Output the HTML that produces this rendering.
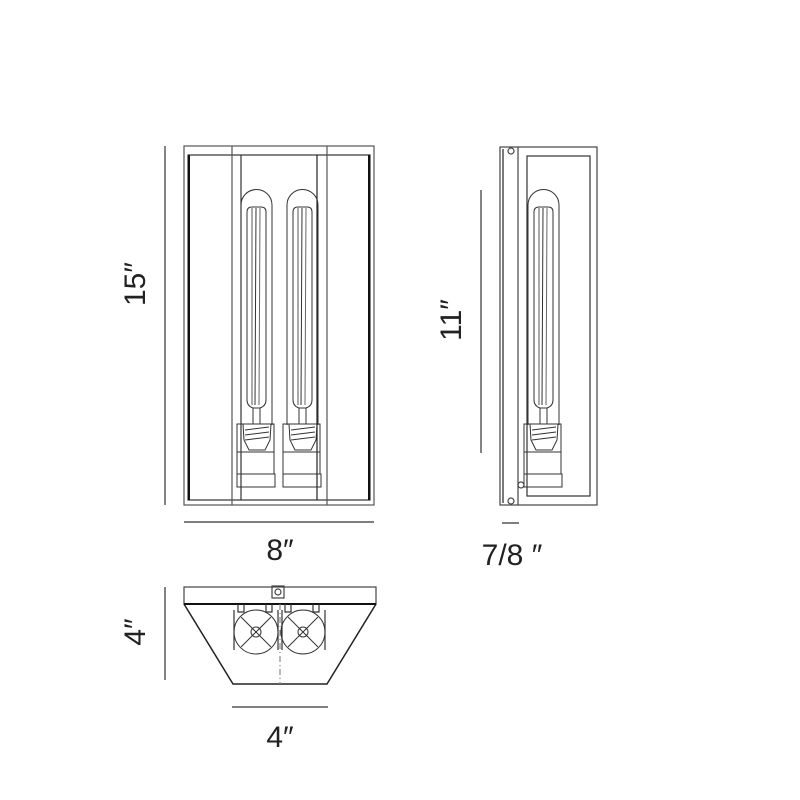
<!DOCTYPE html>
<html><head><style>html,body{margin:0;padding:0;background:#fff}svg{display:block}</style></head>
<body>
<svg width="800" height="800" viewBox="0 0 800 800" xmlns="http://www.w3.org/2000/svg" font-family="Liberation Sans, sans-serif">
<defs>
<g id="bulb">
  <path d="M0,425 L0,205 A15.5,15.5 0 0 1 31,205 L31,425" fill="none" stroke="#333" stroke-width="1"/>
  <path d="M6,400 L6,212 Q6,207 11,207 L20,207 Q25,207 25,212 L25,400 Q25,406 19,408 L12,408 Q6,406 6,400Z" fill="none" stroke="#333" stroke-width="1"/>
  <line x1="11" y1="208" x2="11" y2="405" stroke="#555"/><line x1="15" y1="208" x2="14" y2="405" stroke="#333"/><line x1="19" y1="208" x2="18" y2="405" stroke="#666"/>
  <line x1="12" y1="408" x2="12" y2="424" stroke="#333"/><line x1="19" y1="408" x2="19" y2="424" stroke="#333"/>
  <rect x="-4" y="424" width="37" height="28" fill="none" stroke="#333"/>
  <path d="M2,424 L30,424 L29,440 L24,450 L8,450 L3,440Z" fill="none" stroke="#333"/>
  <line x1="4" y1="430" x2="28" y2="427" stroke="#333"/><line x1="4" y1="435" x2="28" y2="432" stroke="#333"/><line x1="4" y1="440" x2="28" y2="437" stroke="#333"/>
  <line x1="-4" y1="452" x2="-4" y2="474" stroke="#333"/><line x1="33" y1="452" x2="33" y2="474" stroke="#333"/>
  <rect x="-4" y="474" width="38" height="13" fill="none" stroke="#333"/>
</g>
<g id="fan">
  <circle r="22" fill="none" stroke="#333"/>
  <circle r="5" fill="none" stroke="#333"/>
  <line x1="-15" y1="-15" x2="15" y2="15" stroke="#333"/><line x1="-15" y1="15" x2="15" y2="-15" stroke="#333"/>
</g>
</defs>
<g fill="none" stroke="#555" stroke-width="1.2">
  <rect x="184" y="146" width="190" height="359"/>
  <rect x="188" y="155" width="182" height="345" stroke="#333"/>
  <line x1="232" y1="146" x2="232" y2="505"/>
  <line x1="241" y1="155" x2="241" y2="500" stroke="#333"/>
  <line x1="317" y1="155" x2="317" y2="500" stroke="#222"/>
  <line x1="327" y1="146" x2="327" y2="505"/>
  <line x1="189" y1="155" x2="189" y2="500" stroke="#111" stroke-width="2"/>
  <line x1="369" y1="155" x2="369" y2="500" stroke="#111" stroke-width="2"/>
</g>
<use href="#bulb" x="241"/>
<use href="#bulb" x="287"/>
<g fill="none" stroke="#444" stroke-width="1.2">
  <rect x="500" y="147" width="97" height="358"/>
  <line x1="518" y1="147" x2="518" y2="505"/>
  <line x1="503" y1="149" x2="503" y2="503" stroke="#222"/>
  <rect x="527" y="156" width="63" height="340" stroke="#333"/>
  <circle cx="511" cy="151" r="3"/><circle cx="511" cy="501" r="3"/><circle cx="521" cy="485" r="3"/>
</g>
<use href="#bulb" x="528"/>
<g fill="none" stroke="#444" stroke-width="1.2">
  <rect x="184" y="587" width="192" height="17"/>
  <rect x="272" y="586" width="12" height="12"/><circle cx="278" cy="592" r="3"/>
  <path d="M184,604 L233,684 L327,684 L376,604" stroke="#222" stroke-width="1.5"/>
  <line x1="184" y1="604" x2="376" y2="604" stroke="#111" stroke-width="2"/>
  <line x1="280" y1="604" x2="280" y2="684" stroke="#888" stroke-dasharray="6 3 1 3"/>
  <path d="M238,604 v8 h6 v-8 M266,604 v8 h6 v-8 M285,604 v8 h6 v-8 M313,604 v8 h6 v-8" stroke="#333"/>
  <line x1="234" y1="610" x2="234" y2="650" stroke="#333"/><line x1="278" y1="610" x2="278" y2="650" stroke="#333"/>
  <line x1="282" y1="610" x2="282" y2="650" stroke="#333"/><line x1="325" y1="610" x2="325" y2="650" stroke="#333"/>
</g>
<use href="#fan" x="256" y="632"/>
<use href="#fan" x="303" y="632"/>
<g stroke="#333" stroke-width="1.2">
  <line x1="165" y1="146" x2="165" y2="505"/>
  <line x1="184" y1="522" x2="374" y2="522"/>
  <line x1="481" y1="190" x2="481" y2="453"/>
  <line x1="502" y1="523" x2="519" y2="523"/>
  <line x1="165" y1="587" x2="165" y2="680"/>
  <line x1="232" y1="707" x2="328" y2="707"/>
</g>
<g fill="#222" font-size="30">
  <text transform="translate(145,284) rotate(-90)" text-anchor="middle">15″</text>
  <text x="280" y="560" text-anchor="middle">8″</text>
  <text transform="translate(461,320) rotate(-90)" text-anchor="middle">11″</text>
  <text x="512" y="565" text-anchor="middle">7/8 ″</text>
  <text transform="translate(145,632) rotate(-90)" text-anchor="middle">4″</text>
  <text x="280" y="747" text-anchor="middle">4″</text>
</g>
</svg>
</body></html>
